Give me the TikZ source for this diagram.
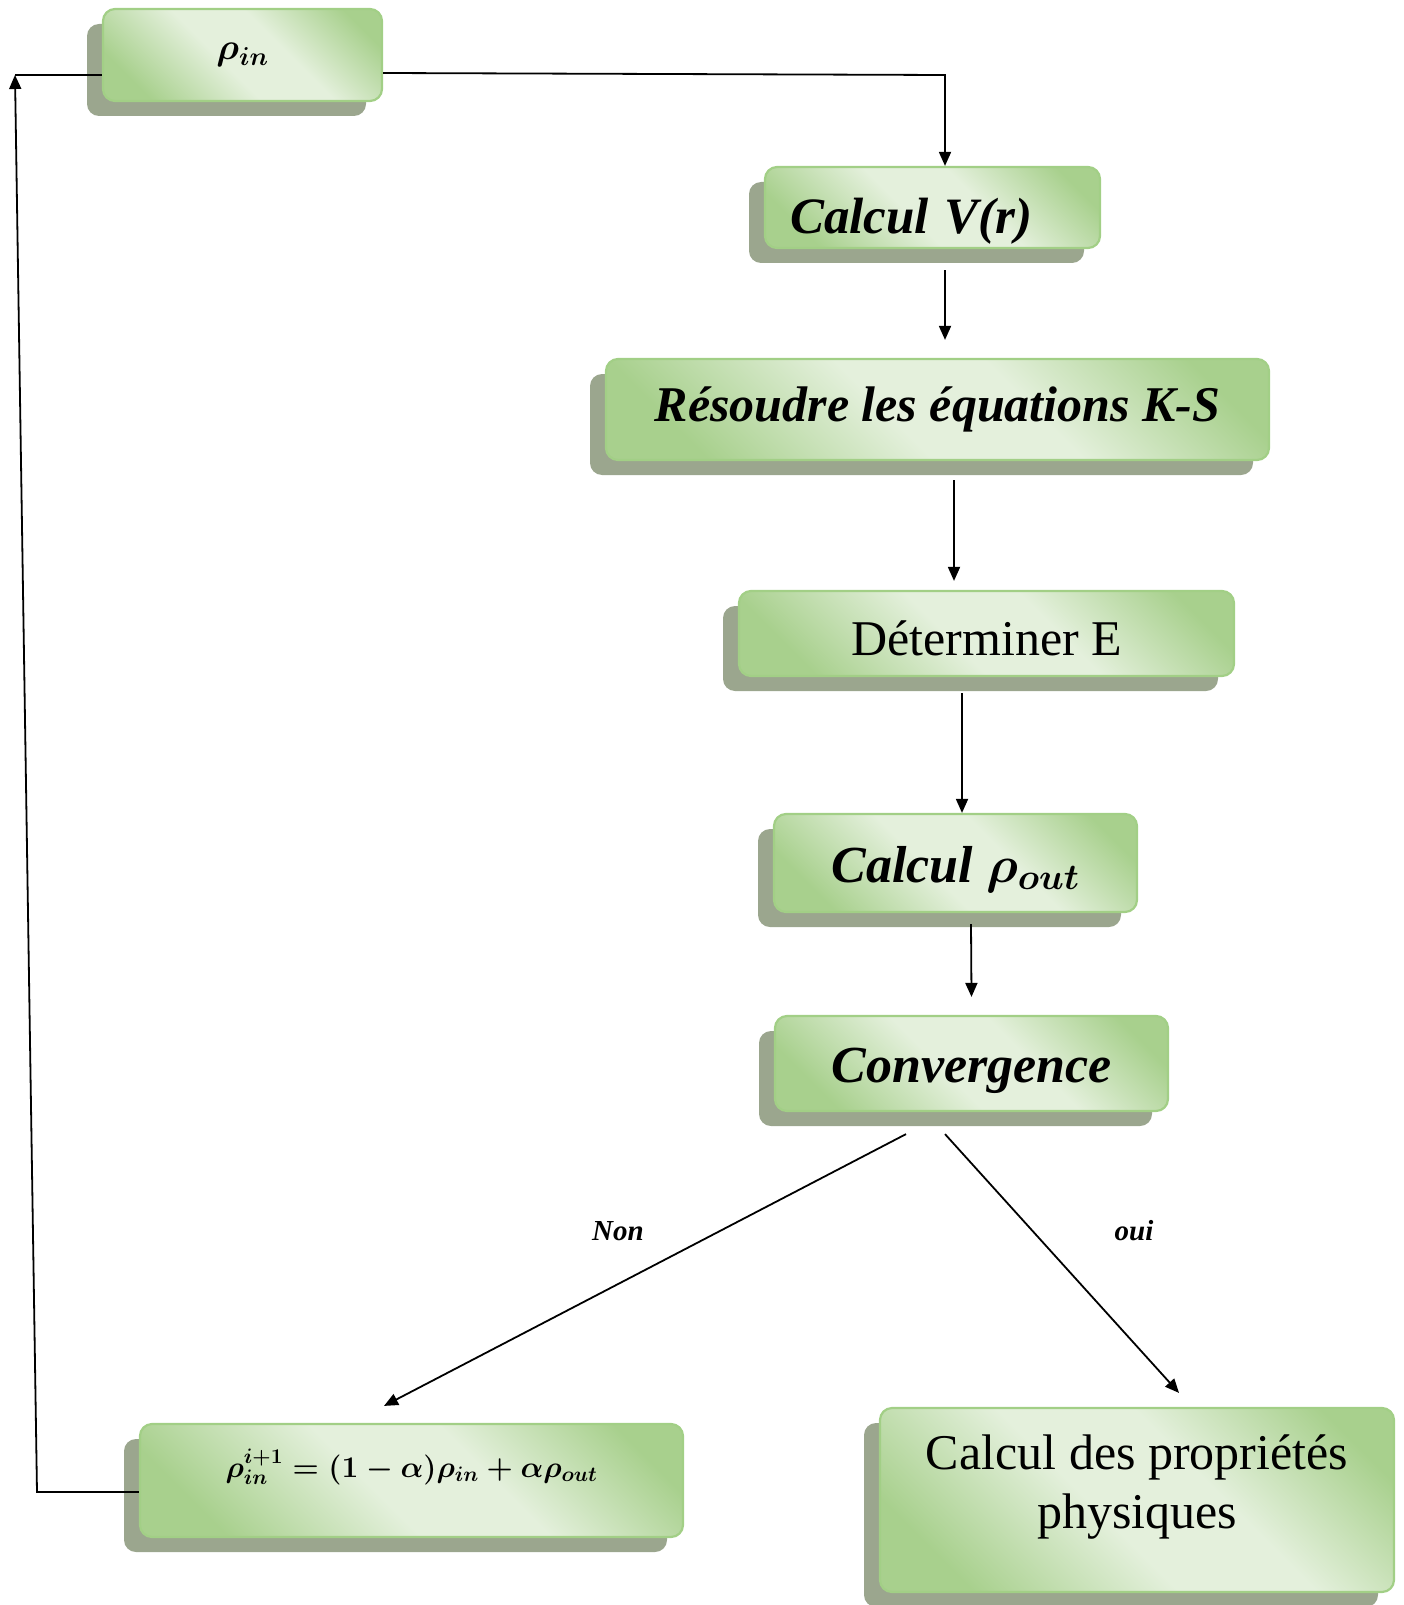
\RequirePackage{fix-cm}
\documentclass[tikz,border=0pt]{standalone}
\usepackage{amsmath}
\usepackage{fontspec}
\setmainfont{Liberation Serif}
\usetikzlibrary{arrows.meta,shadows,calc}
\definecolor{gdark}{RGB}{168,208,141}
\definecolor{glight}{RGB}{228,240,220}
\definecolor{gborder}{RGB}{162,207,134}
\definecolor{shadowc}{RGB}{155,166,142}
\pgfdeclarehorizontalshading{greenbox}{100bp}{color(0bp)=(gdark); color(24bp)=(gdark); color(45bp)=(glight); color(59bp)=(glight); color(78bp)=(gdark); color(100bp)=(gdark)}
\newcommand{\fszBig}{\fontsize{50}{58}\selectfont}
\tikzset{
  gbox/.style={draw=gborder, line width=2.2pt, rounded corners=12pt,
    shading=greenbox, shading angle=45,
    drop shadow={shadow xshift=-16pt, shadow yshift=-15pt, fill=shadowc, opacity=1},
    inner sep=0pt},
  txt/.style={inner sep=0pt, align=center},
  arr/.style={-{Triangle[length=14pt,width=12pt]}, line width=1.8pt},
  lbl/.style={inner sep=0pt}
}
\begin{document}
\begin{tikzpicture}[x=1pt,y=-1pt]
\useasboundingbox (0,0) rectangle (1403,1605);
% boxes
\node[gbox, minimum width=279pt, minimum height=92pt] (rho) at (242.5,55) {\fontsize{37}{44}\selectfont $\boldsymbol{\rho_{in}}$};
\node[gbox, minimum width=335pt, minimum height=81pt, text width=285pt, inner xsep=25pt, align=left, text height=52pt, text depth=0pt] (V) at (932.5,207.5) {\fontsize{51}{58}\selectfont\bfseries\itshape Calcul\hspace{0.3em}V(r)};
\node[gbox, minimum width=663pt, minimum height=101pt] (KS) at (937.5,409.5) {\fontsize{50}{58}\selectfont\bfseries\itshape Résoudre les équations K-S};
\node[gbox, minimum width=495pt, minimum height=85pt, text height=43pt, text depth=0pt] (E) at (986.5,633.5) {\fontsize{50}{58}\selectfont Déterminer E};
\node[gbox, minimum width=363pt, minimum height=98pt, text height=38pt, text depth=0pt] (rout) at (955.5,863) {\fontsize{52}{60}\selectfont\bfseries\itshape Calcul $\boldsymbol{\rho_{out}}$};
\node[gbox, minimum width=393pt, minimum height=95pt, text height=38pt, text depth=0pt] (conv) at (971.5,1063.5) {\fontsize{52}{60}\selectfont\bfseries\itshape Convergence};
\node[gbox, minimum width=543pt, minimum height=113pt] (mix) at (411.5,1480.5) {};
\node[txt] (mixt) at (411.5,1467) {\fontsize{30}{36}\selectfont $\boldsymbol{\rho_{in}^{i+1}=(1-\alpha)\rho_{in}+\alpha\rho_{out}}$};
\node[gbox, minimum width=514pt, minimum height=184pt] (prop) at (1137,1500) {};
\node[txt] (propt) at (1137,1487) {\fszBig Calcul des propriétés\\[13pt]\fszBig physiques};
% connectors
\coordinate (c1) at (945,75);
\draw[arr] ($(rho.east)+(0,18)$) -- (c1) -- (c1 |- V.north);
\draw[arr] ([xshift=12.5pt,yshift=-21pt]V.south) -- ([xshift=7.5pt,yshift=18pt]KS.north);
\draw[arr] ([xshift=16.5pt,yshift=-19pt]KS.south) -- ([xshift=-32.5pt,yshift=9pt]E.north);
\draw[arr] ([xshift=-24.5pt,yshift=-16pt]E.south) -- ([xshift=6.5pt]rout.north);
\draw[arr] ([xshift=15.5pt,yshift=-11pt]rout.south) -- ([yshift=18pt]conv.north);
\draw[arr] ([xshift=-65.5pt,yshift=-22pt]conv.south) -- ([xshift=-27.5pt,yshift=17pt]mix.north);
\draw[arr] ([xshift=-26.5pt,yshift=-22pt]conv.south) -- ([xshift=42pt,yshift=14pt]prop.north);
\coordinate (c2) at (37,1492);
\coordinate (c3) at (15,75);
\draw[arr] ([yshift=-11.5pt]mix.west) -- (c2) -- (c3);
\draw[line width=1.8pt] (c3) -- ([yshift=-20pt]rho.west);
% labels
\node[lbl] (non) at (618,1231) {\fontsize{29}{34}\selectfont\bfseries\itshape Non};
\node[lbl] (oui) at (1134,1231) {\fontsize{29}{34}\selectfont\bfseries\itshape oui};
\end{tikzpicture}
\end{document}
